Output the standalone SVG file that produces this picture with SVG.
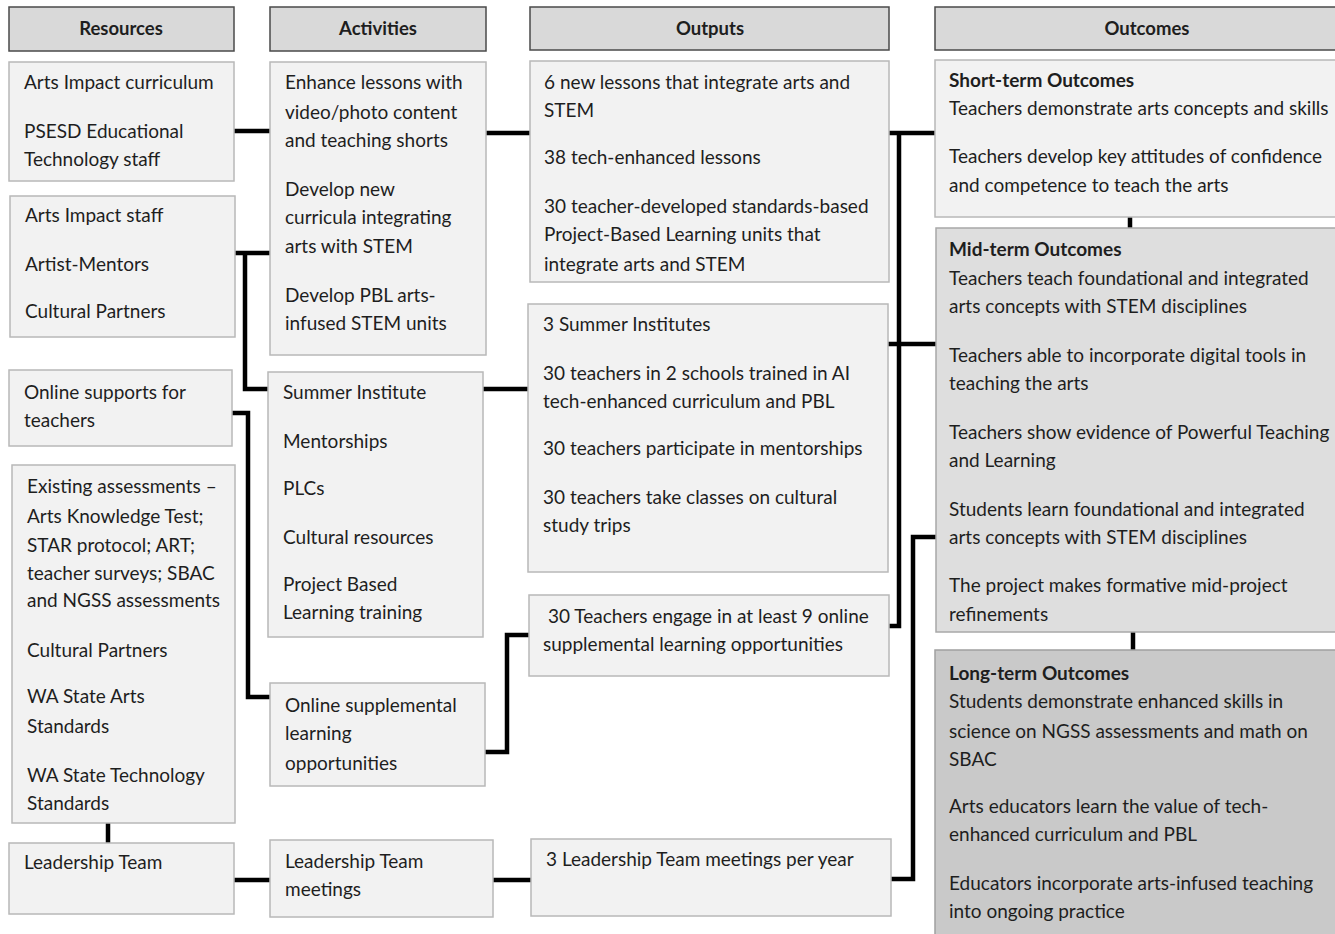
<svg xmlns="http://www.w3.org/2000/svg" width="1335" height="934" viewBox="0 0 1335 934">
<defs>
<style>
.hdr{fill:#d9d9d9;stroke:#4a4a4a;stroke-width:1.5}
.box{fill:#f2f2f2;stroke:#b8b8b8;stroke-width:1.5}
.mid{fill:#dedede;stroke:#a8a8a8;stroke-width:1.5}
.long{fill:#c9c9c9;stroke:#a0a0a0;stroke-width:1.5}
text{font-family:Lato,"Liberation Sans",sans-serif;font-size:19px;fill:#1e1e1e}
.h{font-weight:bold;text-anchor:middle;font-size:18.5px}
.b{font-weight:bold}
.c{fill:none;stroke:#000;stroke-width:4.5;stroke-linejoin:miter}
</style>
</defs>
<rect width="1335" height="934" fill="#ffffff"/>

<g id="headers">
<g id="h-resources"><rect class="hdr" x="9" y="7" width="225" height="44"/><text class="h" x="121" y="35">Resources</text></g>
<g id="h-activities"><rect class="hdr" x="270" y="7" width="216" height="44"/><text class="h" x="378" y="35">Activities</text></g>
<g id="h-outputs"><rect class="hdr" x="530" y="7" width="359" height="43"/><text class="h" x="710" y="35">Outputs</text></g>
<g id="h-outcomes"><rect class="hdr" x="935" y="7" width="410" height="43"/><text class="h" x="1147" y="35">Outcomes</text></g>
</g>

<g id="connectors">
<path class="c" d="M234 131 H270"/>
<path class="c" d="M486 133 H530"/>
<path class="c" d="M235 253 H270 M245 253 V389 H268"/>
<path class="c" d="M232 413 H248 V697 H270"/>
<path class="c" d="M483 389 H528"/>
<path class="c" d="M485 752 H507 V635 H529"/>
<path class="c" d="M108 823 V843"/>
<path class="c" d="M234 880 H270"/>
<path class="c" d="M493 880 H531"/>
<path class="c" d="M889 133 H935 M899 133 V626 H889 M888 344 H936"/>
<path class="c" d="M891 879 H913 V537 H936"/>
<path class="c" d="M1130 217 V228"/>
<path class="c" d="M1133 632 V650"/>
</g>

<g id="r1"><rect class="box" x="9" y="62" width="225" height="119"/>
<text x="24" y="89">Arts Impact curriculum</text>
<text x="24" y="138">PSESD Educational</text>
<text x="24" y="166">Technology staff</text></g>

<g id="r2"><rect class="box" x="10" y="196" width="225" height="141"/>
<text x="25" y="222">Arts Impact staff</text>
<text x="25" y="271">Artist-Mentors</text>
<text x="25" y="318">Cultural Partners</text></g>

<g id="r3"><rect class="box" x="9" y="370" width="223" height="76"/>
<text x="24" y="399">Online supports for</text>
<text x="24" y="427">teachers</text></g>

<g id="r4"><rect class="box" x="12" y="465" width="223" height="358"/>
<text x="27" y="493">Existing assessments –</text>
<text x="27" y="523">Arts Knowledge Test;</text>
<text x="27" y="552">STAR protocol; ART;</text>
<text x="27" y="580">teacher surveys; SBAC</text>
<text x="27" y="607">and NGSS assessments</text>
<text x="27" y="657">Cultural Partners</text>
<text x="27" y="703">WA State Arts</text>
<text x="27" y="733">Standards</text>
<text x="27" y="782">WA State Technology</text>
<text x="27" y="810">Standards</text></g>

<g id="r5"><rect class="box" x="9" y="843" width="225" height="71"/>
<text x="24" y="869">Leadership Team</text></g>

<g id="a1"><rect class="box" x="270" y="62" width="216" height="293"/>
<text x="285" y="89">Enhance lessons with</text>
<text x="285" y="119">video/photo content</text>
<text x="285" y="147">and teaching shorts</text>
<text x="285" y="196">Develop new</text>
<text x="285" y="224">curricula integrating</text>
<text x="285" y="253">arts with STEM</text>
<text x="285" y="302">Develop PBL arts-</text>
<text x="285" y="330">infused STEM units</text></g>

<g id="a2"><rect class="box" x="268" y="372" width="215" height="265"/>
<text x="283" y="399">Summer Institute</text>
<text x="283" y="448">Mentorships</text>
<text x="283" y="495">PLCs</text>
<text x="283" y="544">Cultural resources</text>
<text x="283" y="591">Project Based</text>
<text x="283" y="619">Learning training</text></g>

<g id="a3"><rect class="box" x="270" y="683" width="215" height="103"/>
<text x="285" y="712">Online supplemental</text>
<text x="285" y="740">learning</text>
<text x="285" y="770">opportunities</text></g>

<g id="a4"><rect class="box" x="270" y="840" width="223" height="77"/>
<text x="285" y="868">Leadership Team</text>
<text x="285" y="896">meetings</text></g>

<g id="o1"><rect class="box" x="530" y="61" width="359" height="221"/>
<text x="544" y="89">6 new lessons that integrate arts and</text>
<text x="544" y="117">STEM</text>
<text x="544" y="164">38 tech-enhanced lessons</text>
<text x="544" y="213">30 teacher-developed standards-based</text>
<text x="544" y="241">Project-Based Learning units that</text>
<text x="544" y="271">integrate arts and STEM</text></g>

<g id="o2"><rect class="box" x="528" y="304" width="360" height="268"/>
<text x="543" y="331">3 Summer Institutes</text>
<text x="543" y="380">30 teachers in 2 schools trained in AI</text>
<text x="543" y="408">tech-enhanced curriculum and PBL</text>
<text x="543" y="455">30 teachers participate in mentorships</text>
<text x="543" y="504">30 teachers take classes on cultural</text>
<text x="543" y="532">study trips</text></g>

<g id="o3"><rect class="box" x="529" y="595" width="360" height="81"/>
<text x="548" y="623">30 Teachers engage in at least 9 online</text>
<text x="543" y="651">supplemental learning opportunities</text></g>

<g id="o4"><rect class="box" x="531" y="839" width="360" height="77"/>
<text x="546" y="866">3 Leadership Team meetings per year</text></g>

<g id="short-term"><rect class="box" x="935" y="60" width="410" height="157"/>
<text class="b" x="949" y="87">Short-term Outcomes</text>
<text x="949" y="115">Teachers demonstrate arts concepts and skills</text>
<text x="949" y="163">Teachers develop key attitudes of confidence</text>
<text x="949" y="192">and competence to teach the arts</text></g>

<g id="mid-term"><rect class="mid" x="936" y="228" width="409" height="404"/>
<text class="b" x="949" y="256">Mid-term Outcomes</text>
<text x="949" y="285">Teachers teach foundational and integrated</text>
<text x="949" y="313">arts concepts with STEM disciplines</text>
<text x="949" y="362">Teachers able to incorporate digital tools in</text>
<text x="949" y="390">teaching the arts</text>
<text x="949" y="439">Teachers show evidence of Powerful Teaching</text>
<text x="949" y="467">and Learning</text>
<text x="949" y="516">Students learn foundational and integrated</text>
<text x="949" y="544">arts concepts with STEM disciplines</text>
<text x="949" y="592">The project makes formative mid-project</text>
<text x="949" y="621">refinements</text></g>

<g id="long-term"><rect class="long" x="935" y="650" width="410" height="300"/>
<text class="b" x="949" y="680">Long-term Outcomes</text>
<text x="949" y="708">Students demonstrate enhanced skills in</text>
<text x="949" y="738">science on NGSS assessments and math on</text>
<text x="949" y="766">SBAC</text>
<text x="949" y="813">Arts educators learn the value of tech-</text>
<text x="949" y="841">enhanced curriculum and PBL</text>
<text x="949" y="890">Educators incorporate arts-infused teaching</text>
<text x="949" y="918">into ongoing practice</text></g>
</svg>
